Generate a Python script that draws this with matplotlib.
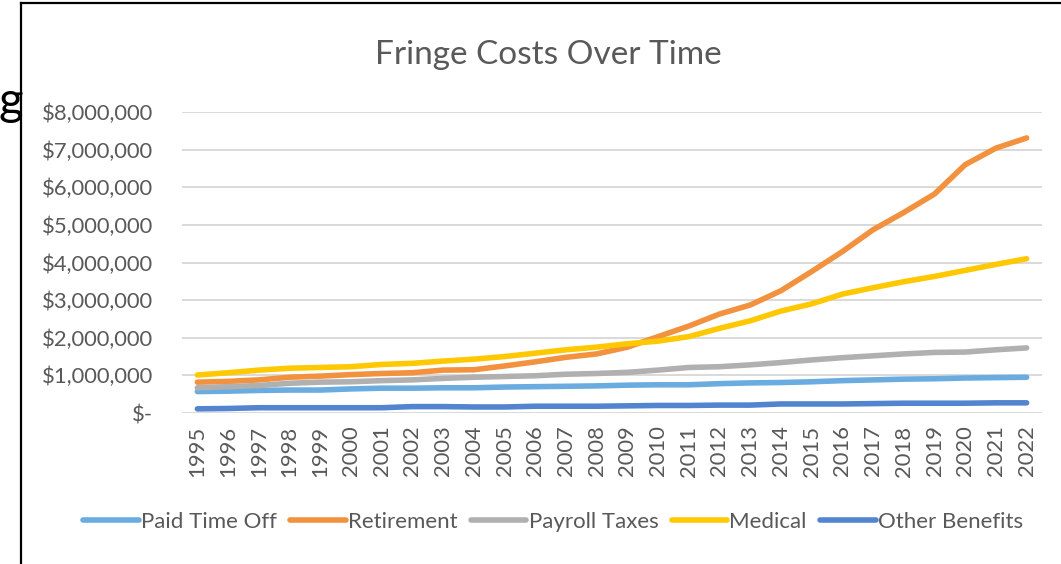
import matplotlib
matplotlib.use("Agg")
from matplotlib import pyplot as plt
from matplotlib.lines import Line2D
from matplotlib.ticker import FuncFormatter

years = [str(y) for y in range(1995, 2023)]

paid_time_off = [0.57, 0.58, 0.60, 0.61, 0.61, 0.64, 0.66, 0.66, 0.67, 0.67,
                 0.69, 0.70, 0.71, 0.72, 0.74, 0.75, 0.75, 0.78, 0.80,
                 0.81, 0.83, 0.86, 0.88, 0.90, 0.91, 0.93, 0.94, 0.95]
retirement = [0.82, 0.84, 0.88, 0.95, 0.98, 1.02, 1.05, 1.07, 1.14, 1.15,
              1.25, 1.36, 1.48, 1.57, 1.75, 2.03, 2.31, 2.63, 2.87,
              3.25, 3.76, 4.29, 4.87, 5.33, 5.82, 6.60, 7.04, 7.31]
payroll_taxes = [0.67, 0.70, 0.73, 0.79, 0.82, 0.83, 0.86, 0.88, 0.92, 0.95,
                 0.97, 0.99, 1.03, 1.05, 1.08, 1.14, 1.21, 1.23, 1.28,
                 1.34, 1.41, 1.47, 1.52, 1.57, 1.61, 1.62, 1.68, 1.73]
medical = [1.01, 1.07, 1.14, 1.19, 1.21, 1.23, 1.29, 1.32, 1.38, 1.43,
           1.50, 1.59, 1.68, 1.75, 1.84, 1.91, 2.03, 2.25, 2.45,
           2.71, 2.90, 3.16, 3.33, 3.49, 3.63, 3.79, 3.95, 4.10]
other_benefits = [0.11, 0.12, 0.14, 0.14, 0.14, 0.14, 0.14, 0.17, 0.17, 0.16,
                  0.16, 0.18, 0.18, 0.18, 0.19, 0.20, 0.20, 0.21, 0.21,
                  0.24, 0.24, 0.24, 0.25, 0.26, 0.26, 0.26, 0.27, 0.27]

series = [
    ("Paid Time Off", paid_time_off, "#6AACDF"),
    ("Retirement", retirement, "#F2913E"),
    ("Payroll Taxes", payroll_taxes, "#B0B0B0"),
    ("Medical", medical, "#FFC800"),
    ("Other Benefits", other_benefits, "#5284D0"),
]

plt.rcParams["font.family"] = ["Lato", "DejaVu Sans"]
grey_text = "#595959"

W, H = 1061, 564
fig = plt.figure(figsize=(W / 100, H / 100), dpi=100)
ax = fig.add_axes([182 / W, 1 - 413 / H, (1042 - 182) / W, (413 - 112) / H])

x = list(range(len(years)))
for name, vals, color in series:
    ax.plot(x, [v * 1e6 for v in vals], color=color, lw=4.0,
            solid_capstyle="round", solid_joinstyle="round", label=name)

ax.set_xlim(-0.5, len(years) - 0.5)
ax.set_ylim(0, 8e6)
ax.set_yticks([i * 1e6 for i in range(9)])


def money(v, pos):
    if v == 0:
        return "$-"
    return "${:,.0f}".format(v)


ax.yaxis.set_major_formatter(FuncFormatter(money))
ax.set_xticks(x)
ax.set_xticklabels(years, rotation=90)
ax.tick_params(axis="y", length=0, pad=21, labelsize=15.8, labelcolor=grey_text)
ax.tick_params(axis="x", length=0, pad=9, labelsize=15.8, labelcolor=grey_text)
ax.grid(axis="y", color="#d9d9d9", lw=1.4)
ax.set_axisbelow(True)
for s in ax.spines.values():
    s.set_visible(False)

fig.text(548 / W, 1 - 55 / H, "Fringe Costs Over Time", ha="center", va="center",
         fontsize=24, color=grey_text)

fig.legend(loc="center", bbox_to_anchor=(553 / W, 1 - 522 / H), ncol=5,
           frameon=False, fontsize=16, labelcolor=grey_text, handlelength=2.5,
           handletextpad=0.1, columnspacing=0.6)

# frame of the embedded chart and a stray letter from the page beside it
fig.add_artist(Line2D([21 / W, 21 / W], [0, 1 - 3 / H], color="black", lw=1.6))
fig.add_artist(Line2D([21 / W, 1], [1 - 3 / H, 1 - 3 / H], color="black", lw=1.6))
fig.text(-2 / W, 1 - 115 / H, "g", ha="left", va="baseline", fontsize=34,
         color="black")

fig.savefig("out.png", dpi=100)
